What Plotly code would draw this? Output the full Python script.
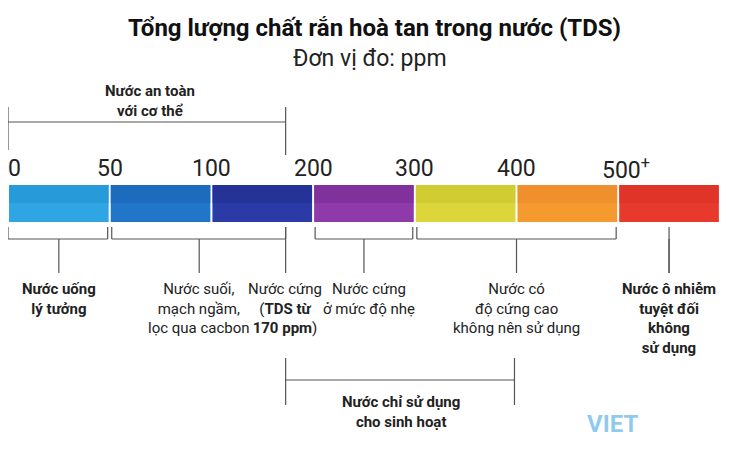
import plotly.graph_objects as go

# scale segments (equal width) and their colours
tick_labels = ["0", "50", "100", "200", "300", "400", "500<sup>+</sup>"]
seg_colors = ["#2fa6e3", "#2176c9", "#2a3aa6", "#8e3aab", "#dcd63a", "#f59a2e", "#e7392c"]
seg_dark = ["#1f8fd0", "#1a5fb0", "#1f2c8a", "#73288e", "#c8c22c", "#e9862a", "#dc3026"]

# lower group labels: (text, x in segment units, bold)
groups = [
    ("Nước uống<br>lý tưởng", 0.5, True),
    ("Nước suối,<br>mạch ngầm,<br>lọc qua cacbon", 1.88, False),
    ("Nước cứng<br>(<b>TDS từ<br>170 ppm</b>)", 2.72, False),
    ("Nước cứng<br>ở mức độ nhẹ", 3.55, False),
    ("Nước có<br>độ cứng cao<br>không nên sử dụng", 5.0, False),
    ("Nước ô nhiễm<br>tuyệt đối<br>không<br>sử dụng", 6.5, True),
]
stems = [0.5, 1.88, 2.73, 3.5, 5.0, 6.5]
brackets = [(0, 0.98), (1.02, 2.73), (3.02, 3.98), (4.02, 5.98)]

U = 101.7
OFF = 8
def px(v):
    return (v - OFF) / U

fig = go.Figure()
n = len(seg_colors)
fig.add_trace(go.Bar(x=[i + 0.5 for i in range(n)], y=[37] * n, base=[185] * n, width=0.98,
                     marker=dict(color=seg_colors, line=dict(width=0)), hoverinfo="skip"))
fig.add_trace(go.Bar(x=[i + 0.5 for i in range(n)], y=[18] * n, base=[185] * n, width=0.98,
                     marker=dict(color=seg_dark, line=dict(width=0), opacity=0.5), hoverinfo="skip"))

shapes = []
ln = dict(color="#555", width=1.2)
def seg(x0, y0, x1, y1):
    shapes.append(dict(type="line", x0=x0, y0=y0, x1=x1, y1=y1, line=ln, xref="x", yref="y"))

for a, b in brackets:
    seg(a, 239, b, 239); seg(a, 227, a, 239); seg(b, 227, b, 239)
for s in stems:
    seg(s, 239 if s != 2.73 else 227, s, 273)
seg(6.5, 227, 6.5, 273)
# top bracket
seg(0, 122, 2.73, 122); seg(0, 107, 0, 150); seg(2.73, 107, 2.73, 155)
# bottom bracket
seg(2.73, 380, 4.98, 380); seg(2.73, 358, 2.73, 405); seg(4.98, 358, 4.98, 405)

ann = []
for i, t in enumerate(tick_labels):
    ann.append(dict(x=i, y=168, text=t, showarrow=False, xanchor="left" if i == 0 else "center",
                    xshift=-2 if i == 0 else (8 if i == 6 else 0),
                    font=dict(size=23, color="#222", family="Roboto")))
for t, x, b in groups:
    ann.append(dict(x=x, y=278, text=f"<b>{t}</b>" if b else t, showarrow=False, yanchor="top",
                    font=dict(size=15, color="#222", family="Roboto")))
ann += [
    dict(x=px(374), y=28, text="<b>Tổng lượng chất rắn hoà tan trong nước (TDS)</b>", showarrow=False,
         font=dict(size=24, color="#111", family="Roboto")),
    dict(x=px(370), y=58, text="Đơn vị đo: ppm", showarrow=False, font=dict(size=23, color="#222", family="Roboto")),
    dict(x=px(150), y=101, text="<b>Nước an toàn<br>với cơ thể</b>", showarrow=False,
         font=dict(size=15, color="#222", family="Roboto")),
    dict(x=3.86, y=412, text="<b>Nước chỉ sử dụng<br>cho sinh hoạt</b>", showarrow=False,
         font=dict(size=15, color="#222", family="Roboto")),
    dict(x=px(612), y=424, text="<b>VIET</b>", showarrow=False,
         font=dict(size=24, color="rgba(30,150,220,0.5)", family="Roboto")),
]

# the page body adds an 8px offset, so ranges start 8px in
fig.update_layout(width=730, height=452, margin=dict(l=0, r=0, t=0, b=0, autoexpand=False), barmode="overlay",
                  plot_bgcolor="white", paper_bgcolor="white", showlegend=False,
                  xaxis=dict(range=[0, 730 / U], visible=False, fixedrange=True),
                  yaxis=dict(range=[460, 8], visible=False, fixedrange=True),
                  shapes=shapes, annotations=ann)
fig.write_html("out.html")
